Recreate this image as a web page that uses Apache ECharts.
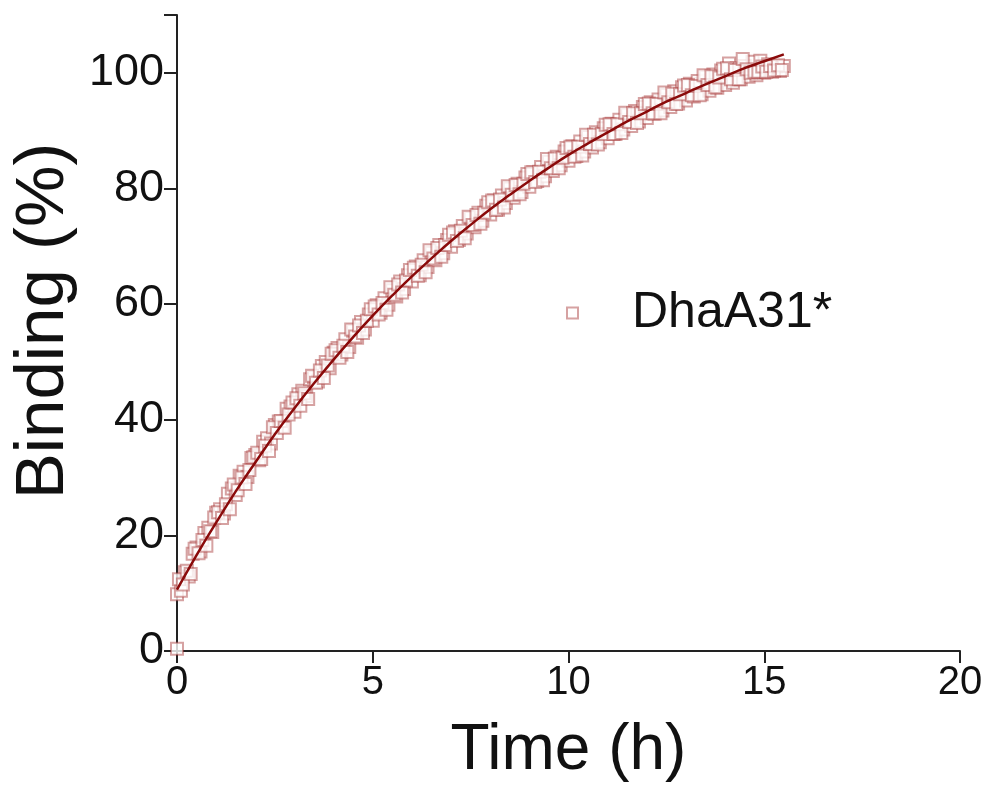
<!DOCTYPE html>
<html>
<head>
<meta charset="utf-8">
<script src="https://cdn.jsdelivr.net/npm/echarts@6/dist/echarts.min.js"></script>
<style>html,body{margin:0;padding:0;background:#fff}#c{width:990px;height:791px}</style>
</head>
<body>
<div id="c"></div>
<script>
// Measured binding data (Time h, Binding %)
var seriesName = 'DhaA31*';
var timeH = [0.0,0.0,0.1,0.2,0.3,0.4,0.5,0.6,0.7,0.8,0.9,1.0,1.1,1.2,1.3,1.4,1.5,1.6,1.7,1.8,1.9,2.0,2.1,2.2,2.3,2.4,2.5,2.6,2.7,2.8,2.9,3.0,3.1,3.2,3.3,3.4,3.5,3.6,3.7,3.8,3.9,4.0,4.1,4.2,4.3,4.4,4.5,4.6,4.7,4.8,4.9,5.0,5.1,5.2,5.3,5.4,5.5,5.6,5.7,5.8,5.9,6.0,6.1,6.2,6.3,6.4,6.5,6.6,6.7,6.8,6.9,7.0,7.1,7.2,7.3,7.4,7.5,7.6,7.7,7.8,7.9,8.0,8.1,8.2,8.3,8.4,8.5,8.6,8.7,8.8,8.9,9.0,9.1,9.2,9.3,9.4,9.5,9.6,9.7,9.8,9.9,10.0,10.1,10.2,10.3,10.4,10.5,10.6,10.7,10.8,10.9,11.0,11.1,11.2,11.3,11.4,11.5,11.6,11.7,11.8,11.9,12.0,12.1,12.2,12.3,12.4,12.5,12.6,12.7,12.8,12.9,13.0,13.1,13.2,13.3,13.4,13.5,13.6,13.7,13.8,13.9,14.0,14.1,14.2,14.3,14.4,14.5,14.6,14.7,14.8,14.9,15.0,15.1,15.2,15.3,15.4,15.5];
var binding = [0.4,9.8,10.4,13.6,12.9,16.8,17.9,17.2,20.4,21.3,20.6,23.9,24.5,23.8,27.2,28.1,27.0,30.3,31.0,30.1,33.4,33.9,33.0,36.2,36.8,35.9,39.1,39.7,38.8,41.9,42.3,41.4,44.4,45.0,44.1,47.0,47.4,46.6,49.3,50.0,48.9,51.6,52.4,51.3,53.9,52.6,55.4,54.2,56.9,55.6,58.2,57.1,59.8,58.5,61.0,59.9,62.4,61.3,63.9,62.6,65.0,63.9,66.5,65.0,67.6,66.4,68.9,67.6,70.2,68.8,71.1,69.9,72.6,71.1,73.5,72.2,74.9,73.3,75.8,74.4,77.0,75.5,77.9,76.3,78.8,77.5,80.0,78.4,80.8,79.4,81.9,80.3,82.8,81.3,83.7,82.1,84.6,83.0,85.5,84.0,86.4,84.8,87.3,85.6,88.1,86.4,88.9,87.1,89.7,88.0,90.4,88.7,91.2,89.4,91.9,90.2,92.8,90.8,93.4,91.6,94.1,92.2,94.9,92.9,95.4,93.5,96.2,94.1,96.8,94.7,97.5,95.2,98.1,95.9,98.6,96.3,99.3,96.9,99.7,97.4,100.4,97.9,101.6,98.3,100.8,98.9,101.2,99.3,101.9,99.6,102.1,100.0,101.5,100.2,101.0,100.3,101.2];
var timeHalf = [0.05,0.15,0.25,0.35,0.45,0.55,0.65,0.75,0.85,0.95,1.05,1.15,1.25,1.35,1.45,1.55,1.65,1.75,1.85,1.95,2.05,2.15,2.25,2.35,2.45,2.55,2.65,2.75,2.85,2.95,3.05,3.15,3.25,3.35,3.45,3.55,3.65,3.75,3.85,3.95,4.05,4.15,4.25,4.35,4.45,4.55,4.65,4.75,4.85,4.95,5.05,5.15,5.25,5.35,5.45,5.55,5.65,5.75,5.85,5.95,6.05,6.15,6.25,6.35,6.45,6.55,6.65,6.75,6.85,6.95,7.05,7.15,7.25,7.35,7.45,7.55,7.65,7.75,7.85,7.95,8.05,8.15,8.25,8.35,8.45,8.55,8.65,8.75,8.85,8.95,9.05,9.15,9.25,9.35,9.45,9.55,9.65,9.75,9.85,9.95,10.05,10.15,10.25,10.35,10.45,10.55,10.65,10.75,10.85,10.95,11.05,11.15,11.25,11.35,11.45,11.55,11.65,11.75,11.85,11.95,12.05,12.15,12.25,12.35,12.45,12.55,12.65,12.75,12.85,12.95,13.05,13.15,13.25,13.35,13.45,13.55,13.65,13.75,13.85,13.95,14.05,14.15,14.25,14.35,14.45,14.55,14.65,14.75,14.85,14.95,15.05,15.15,15.25,15.35,15.45];
var bindingHalf = [12.4,11.5,13.9,13.3,17.7,16.9,19.2,18.2,20.7,23.1,24.0,23.0,25.4,24.5,28.8,27.8,30.0,28.9,31.3,33.5,34.3,33.2,35.5,34.6,38.7,37.7,39.8,38.6,40.9,43.0,43.7,42.4,44.6,43.6,47.6,46.4,48.5,47.2,49.4,51.4,52.0,50.7,52.8,51.7,55.6,54.4,56.3,55.0,57.1,59.1,59.6,58.2,60.2,59.0,62.9,61.6,63.4,62.0,64.1,65.9,66.3,64.9,66.8,65.5,69.3,67.9,69.7,68.2,70.2,72.0,72.4,70.9,72.7,71.4,75.1,73.7,75.4,73.9,75.8,77.6,77.9,76.3,78.1,76.7,80.4,78.9,80.6,79.0,80.8,82.5,82.8,81.1,82.9,81.4,85.1,83.5,85.2,83.5,85.3,87.0,87.2,85.5,87.2,85.7,89.3,87.7,89.3,87.6,89.4,91.0,91.1,89.4,91.1,89.6,93.1,91.5,93.0,91.3,93.0,94.6,94.7,93.0,94.6,93.0,96.6,94.9,96.4,94.6,96.3,97.8,97.9,96.1,97.7,96.1,99.6,97.9,99.4,97.5,99.2,100.7,100.8,98.9,100.5,98.9,102.4,100.6,100.0,100.2,100.2,101.1,100.2,101.2,100.4,101.3,100.5];
// Fitted curve
var fitTime = [0,0.5,1,1.5,2,2.5,3,3.5,4,4.5,5,5.5,6,6.5,7,7.5,8,8.5,9,9.5,10,10.5,11,11.5,12,12.5,13,13.5,14,14.5,15,15.5];
var fitValue = [10.6,16.6,22.2,27.6,32.6,37.5,42.0,46.3,50.4,54.3,58.0,61.5,64.8,67.9,70.9,73.7,76.4,78.9,81.3,83.6,85.8,87.8,89.7,91.6,93.3,95.0,96.5,98.0,99.4,100.8,102.0,103.2];
var xTicks = [0,5,10,15,20];
var yTicks = [0,20,40,60,80,100];

var FONT = "'Liberation Sans', Arial, sans-serif";
var scatterData = timeH.map(function(t,i){return [t, binding[i]];})
  .concat(timeHalf.map(function(t,i){return [t, bindingHalf[i]];}));
var fitData = fitTime.map(function(t,i){return [t, fitValue[i]];});

var chart = echarts.init(document.getElementById('c'), null, {renderer:'canvas'});
chart.setOption({
  animation:false,
  backgroundColor:'#ffffff',
  grid:{left:177,right:30,top:15,bottom:140,containLabel:false,outerBoundsMode:'none'},
  legend:{
    data:[seriesName],
    left:561, top:283,
    itemWidth:11, itemHeight:11,
    textStyle:{fontFamily:FONT,fontSize:50,color:'#111',padding:[0,0,0,49]}
  },
  xAxis:{
    type:'value', min:0, max:20, interval:5,
    name:'Time (h)', nameLocation:'middle', nameGap:68,
    nameTextStyle:{fontFamily:FONT,fontSize:64,color:'#111'},
    axisLine:{show:true,onZero:false,lineStyle:{color:'#222',width:2}},
    axisTick:{show:true,inside:false,length:12,lineStyle:{color:'#222',width:2}},
    axisLabel:{fontFamily:FONT,fontSize:40,color:'#111',margin:12,
      formatter:function(v){return xTicks.indexOf(v)>=0?String(v):'';}},
    splitLine:{show:false}
  },
  yAxis:{
    type:'value', min:0, max:110, interval:20,
    name:'Binding (%)', nameLocation:'middle', nameGap:98,
    nameTextStyle:{fontFamily:FONT,fontSize:69,color:'#111',padding:[0,0,0,24]},
    axisLine:{show:true,onZero:false,lineStyle:{color:'#222',width:2}},
    axisTick:{show:true,inside:false,length:13,lineStyle:{color:'#222',width:2}},
    axisLabel:{fontFamily:FONT,fontSize:45,color:'#111',margin:13,
      formatter:function(v){return yTicks.indexOf(v)>=0?String(v):'';}},
    splitLine:{show:false}
  },
  series:[
    {
      name:seriesName, type:'scatter', symbol:'emptyRect', symbolSize:12,
      data:scatterData,
      itemStyle:{color:'rgba(170,60,60,0.6)',borderColor:'rgba(170,60,60,0.6)',borderWidth:1},
      z:2
    },
    {
      name:'fit', type:'line', smooth:true, showSymbol:false, symbol:'none',
      data:fitData,
      lineStyle:{color:'#8a0a0a',width:2.5},
      z:3
    }
  ]
});
</script>
</body>
</html>
